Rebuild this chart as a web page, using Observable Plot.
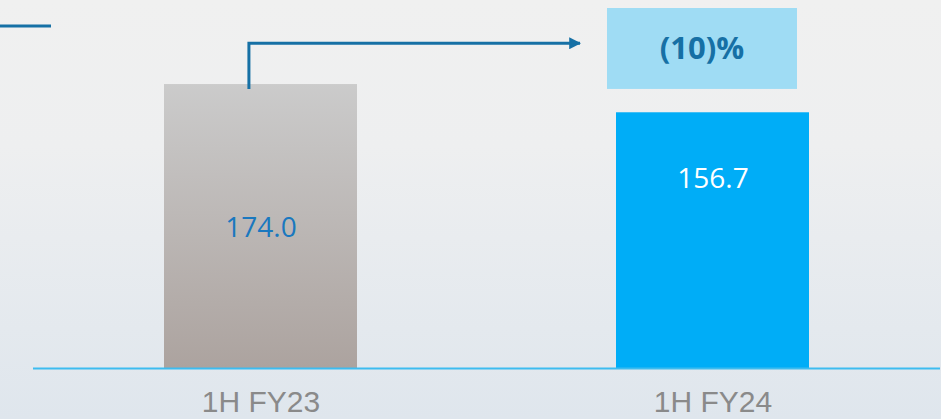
<!DOCTYPE html>
<html><head><meta charset="utf-8">
<script src="https://cdn.jsdelivr.net/npm/d3@7"></script>
<script src="https://cdn.jsdelivr.net/npm/@observablehq/plot@0.6"></script>
<style>
html,body{margin:0;padding:0;}
body{width:941px;height:419px;overflow:hidden;background:linear-gradient(to bottom,#f0f0f0 0%,#eeeff0 35%,#dfe6ed 100%);}
#chart svg{background:transparent;display:block;}
</style></head><body><div id="chart"></div>
<script>
const periods = ["1H FY23", "1H FY24"];
const revenue = [174.0, 156.7];
const changeLabel = "(10)%";

const data = periods.map((p, i) => ({period: p, value: revenue[i]}));
const W = 941, H = 419;
const ns = "http://www.w3.org/2000/svg";
const blue = "#1670a5";

function defs() {
  const d = document.createElementNS(ns, "defs");
  d.innerHTML = `<linearGradient id="gGrey" x1="0" y1="0" x2="0" y2="1">
      <stop offset="0" stop-color="#cbcbcb"/><stop offset="1" stop-color="#aca39f"/></linearGradient>
    <marker id="arr" viewBox="0 0 10 10" refX="9" refY="5" markerWidth="4" markerHeight="4" orient="auto" markerUnits="strokeWidth">
      <path d="M0,0 L10,5 L0,10 z" fill="${blue}"/></marker>`;
  return d;
}

function annotation(index, scales) {
  const x = scales.x, y = scales.y;
  const bw = x.bandwidth();
  const g = document.createElementNS(ns, "g");
  const x0 = x(periods[0]) + bw * 0.44;
  const yStart = y(revenue[0]) + 5;
  const yTop = y(199);
  const xEnd = x(periods[1]) - 36;
  const bx = x(periods[1]) - 9, bwid = bw - 3;
  const by0 = y(220.6), by1 = y(171);
  g.innerHTML = `
    <line x1="0" x2="51" y1="26" y2="26" stroke="${blue}" stroke-width="3"/>
    <path d="M${x0},${yStart} V${yTop} H${xEnd}" fill="none" stroke="${blue}" stroke-width="3" marker-end="url(#arr)"/>
    <rect x="${bx}" y="${by0}" width="${bwid}" height="${by1 - by0}" fill="#9fdcf4"/>
    <text x="${bx + bwid / 2}" y="${(by0 + by1) / 2}" dy="0.35em" text-anchor="middle" fill="${blue}"
      font-family="'Open Sans', sans-serif" font-weight="bold" font-size="31">${changeLabel}</text>`;
  return g;
}

const chart = Plot.plot({
  width: W, height: H,
  marginTop: 0, marginBottom: 51, marginLeft: 33, marginRight: 1,
  style: {background: "transparent", fontFamily: "'Open Sans', sans-serif"},
  x: {domain: periods, paddingInner: 0.5735, paddingOuter: 0.29, label: null},
  y: {domain: [0, 225.5], axis: null},
  marks: [
    defs,
    Plot.barY(data.filter(d => d.period === periods[0]), {x: "period", y: "value", fill: "url(#gGrey)"}),
    Plot.barY(data.filter(d => d.period === periods[1]), {x: "period", y: "value", fill: "#00adf7"}),
    Plot.ruleY([0], {stroke: "#3dbcf0", strokeWidth: 2}),
    Plot.axisX({tickSize: 0, tickPadding: 22, fontSize: 30, color: "#8a8a8a", label: null,
      fontFamily: "'Liberation Sans', Arial, sans-serif"}),
    Plot.text(data.slice(0, 1), {x: "period", y: d => d.value / 2, dy: 2, text: d => d.value.toFixed(1),
      fill: "#1a78bf", fontSize: 28}),
    Plot.text(data.slice(1), {x: "period", y: "value", dy: 66, text: d => d.value.toFixed(1),
      fill: "white", fontSize: 28}),
    annotation
  ]
});
document.getElementById("chart").appendChild(chart);
</script></body></html>
